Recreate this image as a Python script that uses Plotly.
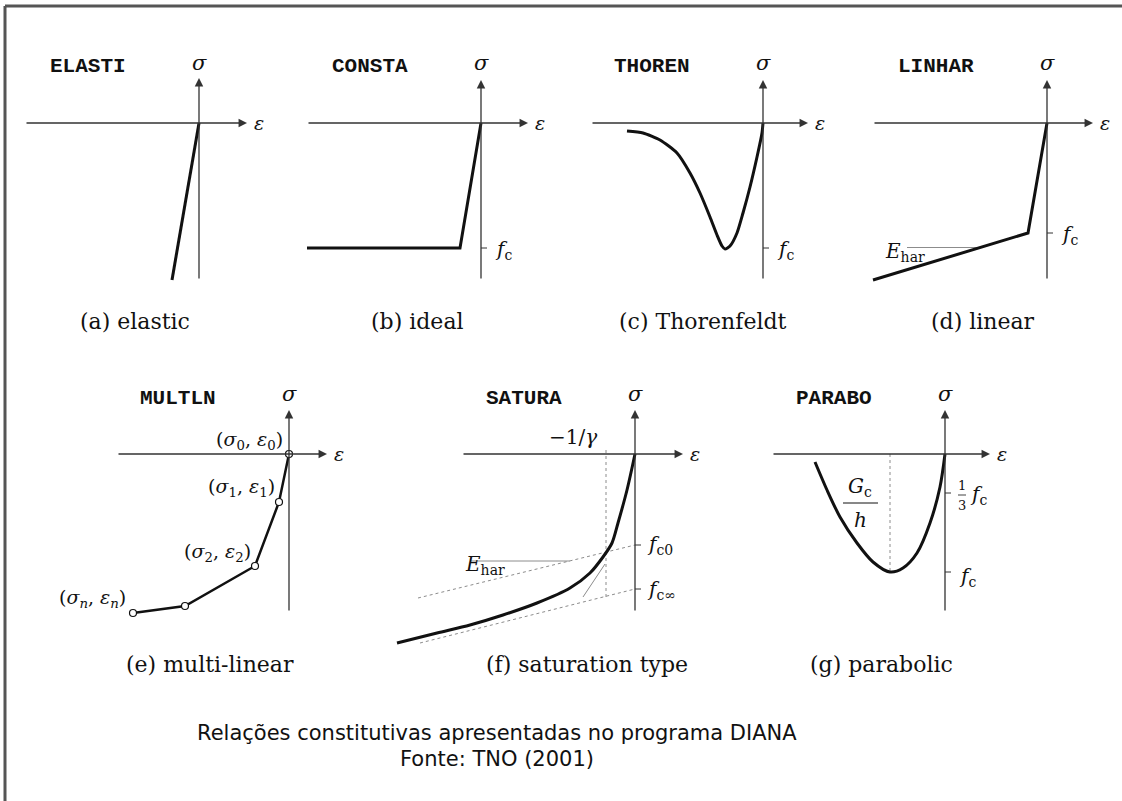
import plotly.graph_objects as go

W, H = 1122, 801
S = 100.0  # pixels per data unit, the same in every panel

INK = "#111111"
AXIS = "#333333"
GUIDE = "#8c8c8c"
SERIF = "DejaVu Serif"
MONO = "Liberation Mono"
SANS = "DejaVu Sans"

# ---- curves (eps, sigma), compression negative ----
elastic_eps = [0.0, -0.27]
elastic_sig = [0.0, -1.57]

ideal_eps = [-1.74, -0.21, 0.0]
ideal_sig = [-1.25, -1.25, 0.0]
ideal_fc = -1.25

thoren_eps = [-1.36, -1.20, -1.03, -0.86, -0.73, -0.63, -0.53, -0.46, -0.41, -0.38,
              -0.33, -0.26, -0.20, -0.13, -0.06, -0.01, 0.0]
thoren_sig = [-0.08, -0.10, -0.17, -0.30, -0.50, -0.70, -0.94, -1.12, -1.23, -1.26,
              -1.23, -1.10, -0.90, -0.64, -0.34, -0.10, 0.0]
thoren_fc = -1.25

linear_eps = [-1.74, -0.19, 0.0]
linear_sig = [-1.57, -1.10, 0.0]
linear_fc = -1.10
linear_ehar_eps = [-1.40, -0.70]
linear_ehar_sig = [-1.245, -1.245]

multi_eps = [0.0, -0.10, -0.34, -1.04, -1.56]
multi_sig = [0.0, -0.48, -1.12, -1.52, -1.59]
multi_labels = [
    "(<i>σ</i><sub>0</sub>, <i>ε</i><sub>0</sub>)",
    "(<i>σ</i><sub>1</sub>, <i>ε</i><sub>1</sub>)",
    "(<i>σ</i><sub>2</sub>, <i>ε</i><sub>2</sub>)",
    "(<i>σ</i><sub><i>n</i></sub>, <i>ε</i><sub><i>n</i></sub>)",
]
multi_label_eps = [-0.04, -0.12, -0.36, -1.61]
multi_label_sig = [0.14, -0.33, -0.98, -1.44]

satur_eps = [0.0, -0.08, -0.17, -0.23, -0.32, -0.45, -0.65, -0.98, -1.32, -1.65, -1.98, -2.38]
satur_sig = [0.0, -0.36, -0.69, -0.89, -1.03, -1.19, -1.34, -1.49, -1.61, -1.71, -1.79, -1.89]
satur_fc0 = -0.91
satur_fcinf = -1.35
satur_gamma_eps = -0.29
satur_asym0_eps = [-2.17, 0.0]
satur_asym0_sig = [-1.44, -0.91]
satur_asym1_eps = [-2.15, 0.0]
satur_asym1_sig = [-1.89, -1.35]
satur_ehar_eps = [-1.65, -0.65]
satur_ehar_sig = [-1.07, -1.07]
satur_tan_eps = [-0.52, -0.30]
satur_tan_sig = [-1.43, -1.10]

parab_eps = [-1.30, -1.18, -1.05, -0.88, -0.72, -0.55, -0.42, -0.28, -0.15, -0.05, 0.0]
parab_sig = [-0.08, -0.36, -0.63, -0.89, -1.08, -1.18, -1.14, -0.99, -0.69, -0.33, 0.0]
parab_fc = -1.18
parab_third = -0.39
parab_peak_eps = -0.55

# ---- panel layout: origin in px, axis extents in data units ----
PANELS = [
    dict(origin=(199, 123), x_lo=-1.85, x_ext=(-1.74, 0.48), y_ext=(-1.57, 0.45),
         key="ELASTI", cap="(a) elastic", cap_x=-0.64, cap_y=-1.99),
    dict(origin=(481, 123), x_lo=-1.85, x_ext=(-1.74, 0.47), y_ext=(-1.57, 0.43),
         key="CONSTA", cap="(b) ideal", cap_x=-0.64, cap_y=-1.99),
    dict(origin=(763, 123), x_lo=-1.85, x_ext=(-1.72, 0.45), y_ext=(-1.57, 0.43),
         key="THOREN", cap="(c) Thorenfeldt", cap_x=-0.60, cap_y=-1.99),
    dict(origin=(1047, 123), x_lo=-1.85, x_ext=(-1.74, 0.46), y_ext=(-1.57, 0.43),
         key="LINHAR", cap="(d) linear", cap_x=-0.64, cap_y=-1.99),
    dict(origin=(289, 454), x_lo=-1.85, x_ext=(-1.72, 0.38), y_ext=(-1.58, 0.44),
         key="MULTLN", cap="(e) multi-linear", cap_x=-0.79, cap_y=-2.10),
    dict(origin=(635, 454), x_lo=-2.45, x_ext=(-1.73, 0.48), y_ext=(-1.58, 0.44),
         key="SATURA", cap="(f) saturation type", cap_x=-0.48, cap_y=-2.10),
    dict(origin=(945, 454), x_lo=-1.85, x_ext=(-1.73, 0.45), y_ext=(-1.58, 0.44),
         key="PARABO", cap="(g) parabolic", cap_x=-0.64, cap_y=-2.10),
]
X_HI = 0.70
Y_RANGE = (-2.25, 0.70)

fig = go.Figure()
annotations = []
layout_axes = {}
refs = []

for i, p in enumerate(PANELS, start=1):
    sfx = "" if i == 1 else str(i)
    ox, oy = p["origin"]
    x0 = (ox + p["x_lo"] * S) / W
    x1 = (ox + X_HI * S) / W
    top = oy - Y_RANGE[1] * S
    bot = oy - Y_RANGE[0] * S
    layout_axes[f"xaxis{sfx}"] = dict(domain=[x0, x1], range=[p["x_lo"], X_HI],
                                      visible=False, anchor=f"y{sfx}", fixedrange=True)
    layout_axes[f"yaxis{sfx}"] = dict(domain=[1 - bot / H, 1 - top / H], range=list(Y_RANGE),
                                      visible=False, anchor=f"x{sfx}", fixedrange=True)
    refs.append((f"x{sfx}", f"y{sfx}"))

fig.update_layout(**layout_axes)


def line(panel, xs, ys, color=INK, width=3.0, dash="solid", shape="linear", markers=None,
         smoothing=1.0):
    xa, ya = refs[panel]
    fig.add_trace(go.Scatter(
        x=xs, y=ys, xaxis=xa, yaxis=ya,
        mode="lines+markers" if markers else "lines",
        line=dict(color=color, width=width, dash=dash, shape=shape, smoothing=smoothing),
        marker=markers, hoverinfo="skip", showlegend=False,
    ))


def note(panel, x, y, text, size=20, family=SERIF, xanchor="center", yanchor="middle",
         color=INK):
    xa, ya = refs[panel]
    annotations.append(dict(x=x, y=y, xref=xa, yref=ya, text=text, showarrow=False,
                            xanchor=xanchor, yanchor=yanchor,
                            font=dict(family=family, size=size, color=color)))


def arrow(panel, x_tail, y_tail, x_head, y_head):
    xa, ya = refs[panel]
    annotations.append(dict(x=x_head, y=y_head, ax=x_tail, ay=y_tail, xref=xa, yref=ya,
                            axref=xa, ayref=ya, text="", showarrow=True, arrowhead=2,
                            arrowsize=1.3, arrowwidth=1.3, arrowcolor=AXIS,
                            standoff=0, startstandoff=0))


def tick(panel, y):
    line(panel, [0.0, 0.06], [y, y], color=AXIS, width=1.0)


# axes, keywords, captions
for i, p in enumerate(PANELS):
    arrow(i, p["x_ext"][0], 0.0, p["x_ext"][1], 0.0)
    arrow(i, 0.0, p["y_ext"][0], 0.0, p["y_ext"][1])
    note(i, 0.0, 0.60, "<i>σ</i>", size=21)
    note(i, p["x_ext"][1] + 0.05, 0.0, "<i>ε</i>", size=19, xanchor="left")
    note(i, -1.11, 0.56, f"<b>{p['key']}</b>", size=21, family=MONO)
    note(i, p["cap_x"], p["cap_y"], p["cap"], size=22)

# (a) elastic
line(0, elastic_eps, elastic_sig)

# (b) ideal
line(1, ideal_eps, ideal_sig)
tick(1, ideal_fc)
note(1, 0.12, ideal_fc - 0.02, "<i>f</i><sub>c</sub>", xanchor="left")

# (c) Thorenfeldt
line(2, thoren_eps, thoren_sig, shape="spline", smoothing=0.6)
tick(2, thoren_fc)
note(2, 0.12, thoren_fc - 0.02, "<i>f</i><sub>c</sub>", xanchor="left")

# (d) linear
line(3, linear_ehar_eps, linear_ehar_sig, color=GUIDE, width=1.0)
line(3, linear_eps, linear_sig)
tick(3, linear_fc)
note(3, 0.12, linear_fc - 0.02, "<i>f</i><sub>c</sub>", xanchor="left")
note(3, -1.20, -1.29, "<i>E</i><sub>har</sub>", xanchor="right")

# (e) multi-linear
line(4, multi_eps, multi_sig, width=2.5,
     markers=dict(symbol="circle", size=7, color="white", line=dict(color=INK, width=1.2)))
for lx, ly, lt in zip(multi_label_eps, multi_label_sig, multi_labels):
    note(4, lx, ly, lt, size=19, xanchor="right")

# (f) saturation type
line(5, satur_asym0_eps, satur_asym0_sig, color=GUIDE, width=1.0, dash="dot")
line(5, satur_asym1_eps, satur_asym1_sig, color=GUIDE, width=1.0, dash="dot")
line(5, [satur_gamma_eps, satur_gamma_eps], [0.04, -1.43], color=GUIDE, width=1.0, dash="dot")
line(5, satur_ehar_eps, satur_ehar_sig, color=GUIDE, width=1.0)
line(5, satur_tan_eps, satur_tan_sig, color=GUIDE, width=1.0)
line(5, satur_eps, satur_sig, shape="spline", smoothing=0.8)
tick(5, satur_fc0)
tick(5, satur_fcinf)
note(5, satur_gamma_eps - 0.33, 0.17, "−1/<i>γ</i>")
note(5, -1.28, -1.11, "<i>E</i><sub>har</sub>", xanchor="right")
note(5, 0.10, satur_fc0, "<i>f</i><sub>c0</sub>", xanchor="left")
note(5, 0.10, satur_fcinf - 0.01, "<i>f</i><sub>c∞</sub>", xanchor="left")

# (g) parabolic
line(6, [parab_peak_eps, parab_peak_eps], [0.0, parab_fc], color=GUIDE, width=1.0, dash="dot")
line(6, parab_eps, parab_sig, shape="spline", smoothing=0.8)
tick(6, parab_third)
tick(6, parab_fc)
note(6, 0.17, parab_third + 0.08, "1", size=13)
line(6, [0.13, 0.21], [parab_third - 0.02, parab_third - 0.02], color=INK, width=0.8)
note(6, 0.17, parab_third - 0.12, "3", size=13)
note(6, 0.23, parab_third - 0.02, "<i>f</i><sub>c</sub>", xanchor="left")
note(6, 0.12, parab_fc - 0.05, "<i>f</i><sub>c</sub>", xanchor="left")
note(6, -0.85, -0.33, "<i>G</i><sub>c</sub>")
line(6, [-1.02, -0.67], [-0.49, -0.49], color=INK, width=1.0)
note(6, -0.85, -0.66, "<i>h</i>")

# source note under the panels
for txt, ypx in [("Relações constitutivas apresentadas no programa DIANA", 733),
                 ("Fonte: TNO (2001)", 759)]:
    annotations.append(dict(x=497 / W, y=1 - ypx / H, xref="paper", yref="paper",
                            text=txt, showarrow=False, xanchor="center", yanchor="middle",
                            font=dict(family=SANS, size=21, color=INK)))

fig.update_layout(
    width=W, height=H, autosize=False,
    margin=dict(l=0, r=0, t=0, b=0),
    paper_bgcolor="white", plot_bgcolor="rgba(0,0,0,0)",
    annotations=annotations,
    shapes=[
        dict(type="line", xref="paper", yref="paper", x0=5 / W, x1=1.01,
             y0=1 - 6 / H, y1=1 - 6 / H, line=dict(color="#555555", width=3)),
        dict(type="line", xref="paper", yref="paper", x0=5 / W, x1=5 / W,
             y0=1 - 6 / H, y1=-0.01, line=dict(color="#555555", width=3)),
    ],
)

fig.write_html("out.html", config={"displayModeBar": False},
               post_script="document.body.style.margin='0px';")
